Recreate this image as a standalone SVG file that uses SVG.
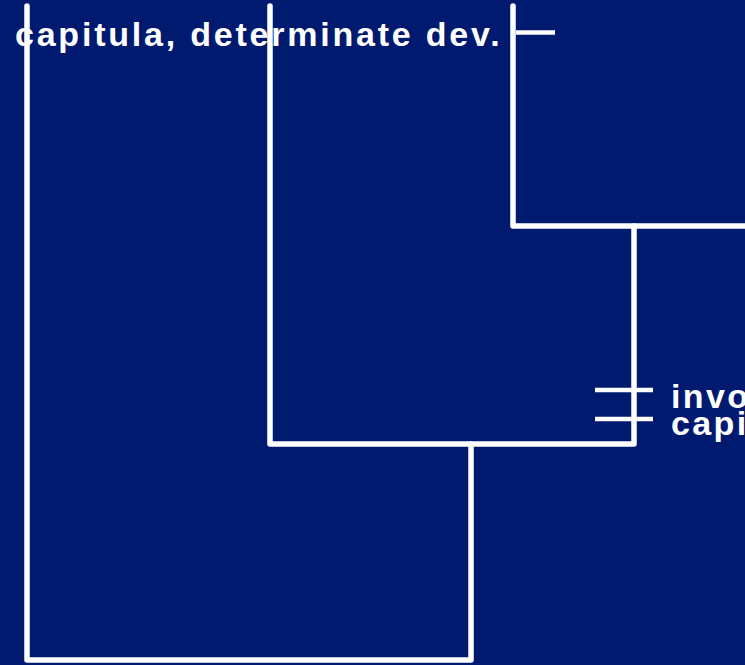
<svg xmlns="http://www.w3.org/2000/svg" width="745" height="665" viewBox="0 0 745 665">
  <style>
    .edge { fill: none; stroke: #ffffff; stroke-width: 5.5; stroke-linecap: round; stroke-linejoin: round; }
    .tick { fill: none; stroke: #ffffff; stroke-width: 4.5; stroke-linecap: butt; }
    .lbl { font-family: "Liberation Sans", Arial, sans-serif; font-weight: bold; font-size: 34px; fill: #ffffff; letter-spacing: 2.4px; }
  </style>
  <rect width="745" height="665" fill="#001a70"/>
  <g id="connectors">
    <path class="edge" d="M27,6 V660 H471 V444"/>
    <path class="edge" d="M270,6 V444 H634 V226"/>
    <path class="edge" d="M513,6 V226 H750"/>
  </g>
  <g id="node-capitula-determinate">
    <line class="tick" x1="516" y1="32.5" x2="555" y2="32.5"/>
    <text class="lbl" x="15" y="46" textLength="487" lengthAdjust="spacing">capitula, determinate dev.</text>
  </g>
  <g id="node-involucre-capitula">
    <line class="tick" x1="595" y1="390" x2="653" y2="390"/>
    <line class="tick" x1="595" y1="419" x2="653" y2="419"/>
    <text class="lbl" x="671" y="408">invo</text>
    <text class="lbl" x="671" y="435">capi</text>
  </g>
</svg>
